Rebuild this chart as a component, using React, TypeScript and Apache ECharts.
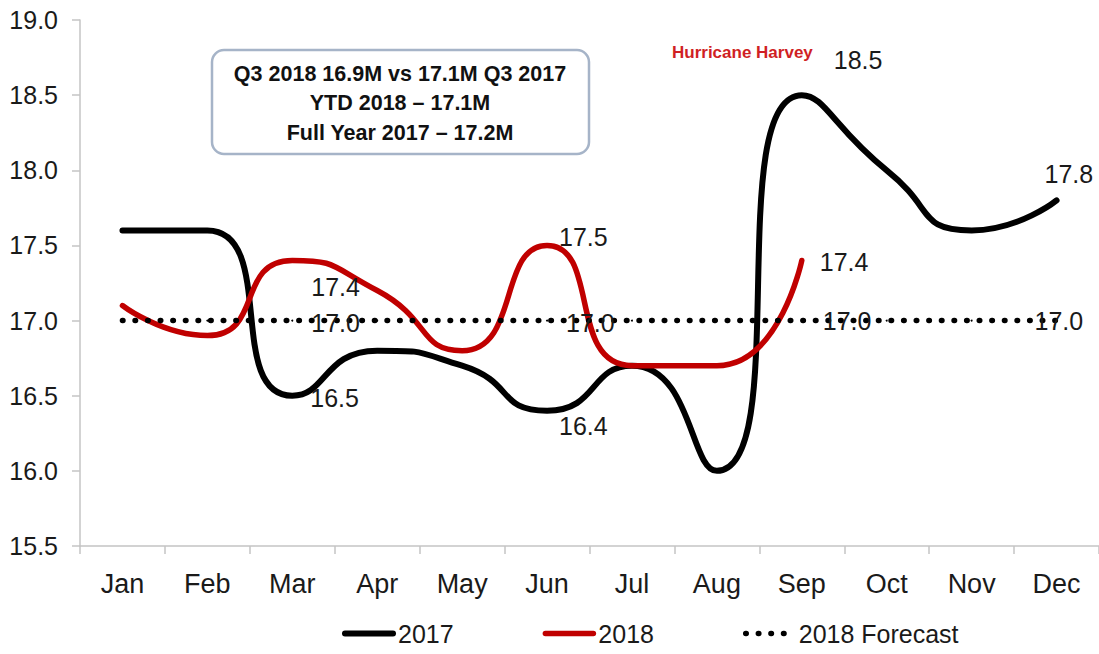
import { useEffect, useRef } from "react";
import * as echarts from "echarts";

// Monthly sales, seasonally adjusted annual rate (millions)
const months = ["Jan", "Feb", "Mar", "Apr", "May", "Jun", "Jul", "Aug", "Sep", "Oct", "Nov", "Dec"];
const sales2017 = [17.6, 17.6, 16.5, 16.8, 16.7, 16.4, 16.7, 16.0, 18.5, 18.0, 17.6, 17.8];
const sales2018 = [17.1, 16.9, 17.4, 17.2, 16.8, 17.5, 16.7, 16.7, 17.4];
const forecast2018 = [17.0, 17.0, 17.0, 17.0, 17.0, 17.0, 17.0, 17.0, 17.0, 17.0, 17.0, 17.0];

const yMin = 15.5;
const yMax = 19.0;
const yStep = 0.5;

const seriesNames = ["2017", "2018", "2018 Forecast"];
const summaryLines = ["Q3 2018 16.9M vs 17.1M Q3 2017", "YTD 2018 \u2013 17.1M", "Full Year 2017 \u2013 17.2M"];
const eventNote = "Hurricane Harvey";

// Which months carry a value label, and where the label sits relative to the point
const labels2017: Record<number, [number, number]> = { 2: [17, 2], 5: [11, 15], 8: [31, -35], 11: [-13, -26] };
const labels2018: Record<number, [number, number]> = { 2: [18, 27], 5: [11, -8], 8: [17, 2] };
const labelsForecast: Record<number, [number, number]> = { 2: [18, 2], 5: [18, 2], 8: [20, 0], 11: [-23, 0] };

const FONT = '"Liberation Sans", Arial, Helvetica, sans-serif';

function withLabels(values: number[], offsets: Record<number, [number, number]>) {
  return values.map((v, i) => {
    const off = offsets[i];
    if (!off) return v;
    return {
      value: v,
      label: {
        show: true,
        position: "right",
        distance: 0,
        offset: off,
        formatter: (p: any) => Number(p.value).toFixed(1),
        fontSize: 25,
        color: "#1a1a1a",
        fontFamily: FONT,
      },
    };
  });
}

export default function App() {
  const ref = useRef<HTMLDivElement>(null);

  useEffect(() => {
    if (!ref.current) return;
    const chart = echarts.init(ref.current, undefined, { renderer: "svg" });

    const option: any = {
      animation: false,
      backgroundColor: "#ffffff",
      textStyle: { fontFamily: FONT },
      grid: { left: 80, right: 0, top: 20, bottom: 108, containLabel: false, outerBoundsMode: "none" },
      legend: {
        data: seriesNames,
        left: 337,
        top: 616,
        itemWidth: 48,
        itemHeight: 6,
        itemGap: 89,
        textStyle: { fontSize: 25, color: "#1a1a1a", fontFamily: FONT },
        itemStyle: { opacity: 0 },
        lineStyle: { width: "inherit", cap: "inherit" },
      },
      xAxis: {
        type: "category",
        data: months,
        boundaryGap: true,
        axisLine: { show: true, lineStyle: { color: "#c4c4c4", width: 1.5 } },
        axisTick: { show: true, length: 8, alignWithLabel: false, interval: 0, lineStyle: { color: "#c4c4c4", width: 1.5 } },
        axisLabel: { fontSize: 27, color: "#1a1a1a", margin: 24, interval: 0, fontFamily: FONT },
        splitLine: { show: false },
      },
      yAxis: {
        type: "value",
        min: yMin,
        max: yMax,
        interval: yStep,
        axisLine: { show: true, lineStyle: { color: "#c4c4c4", width: 1.5 } },
        axisTick: { show: true, length: 8, lineStyle: { color: "#c4c4c4", width: 1.5 } },
        axisLabel: {
          fontSize: 25,
          color: "#1a1a1a",
          margin: 22,
          fontFamily: FONT,
          formatter: (v: number) => v.toFixed(1),
        },
        splitLine: { show: false },
      },
      series: [
        {
          name: seriesNames[0],
          type: "line",
          smooth: 0.6,
          data: withLabels(sales2017, labels2017),
          symbol: "circle",
          symbolSize: 2,
          showSymbol: true,
          itemStyle: { color: "#000000" },
          lineStyle: { color: "#000000", width: 6, cap: "round", join: "round" },
          z: 2,
        },
        {
          name: seriesNames[1],
          type: "line",
          smooth: 0.6,
          data: withLabels(sales2018, labels2018),
          symbol: "circle",
          symbolSize: 2,
          showSymbol: true,
          itemStyle: { color: "#c00000" },
          lineStyle: { color: "#c00000", width: 5.5, cap: "round", join: "round" },
          z: 3,
        },
        {
          name: seriesNames[2],
          type: "line",
          data: withLabels(forecast2018, labelsForecast),
          symbol: "circle",
          symbolSize: 2,
          showSymbol: true,
          itemStyle: { color: "#000000" },
          lineStyle: { color: "#000000", width: 5.5, type: [0.5, 12.1], cap: "round" },
          z: 4,
        },
      ],
      graphic: [
        {
          type: "rect",
          shape: { x: 212, y: 50, width: 377, height: 104, r: 12 },
          style: { fill: "#ffffff", stroke: "#a6b4c8", lineWidth: 2.5 },
          z: 10,
        },
        {
          type: "text",
          x: 400,
          y: 103,
          style: {
            text: summaryLines.join("\n"),
            fontSize: 21.5,
            fontWeight: "bold",
            fontFamily: FONT,
            lineHeight: 29.5,
            align: "center",
            verticalAlign: "middle",
            fill: "#111111",
          },
          z: 11,
        },
        {
          type: "text",
          x: 672,
          y: 52,
          style: {
            text: eventNote,
            fontSize: 17,
            fontWeight: "bold",
            fontFamily: FONT,
            verticalAlign: "middle",
            fill: "#d01f24",
          },
          z: 11,
        },
      ],
    };

    chart.setOption(option);
    return () => chart.dispose();
  }, []);

  return (
    <div
      ref={ref}
      style={{ position: "fixed", left: 0, top: 0, width: 1099, height: 654, background: "#ffffff" }}
    />
  );
}
